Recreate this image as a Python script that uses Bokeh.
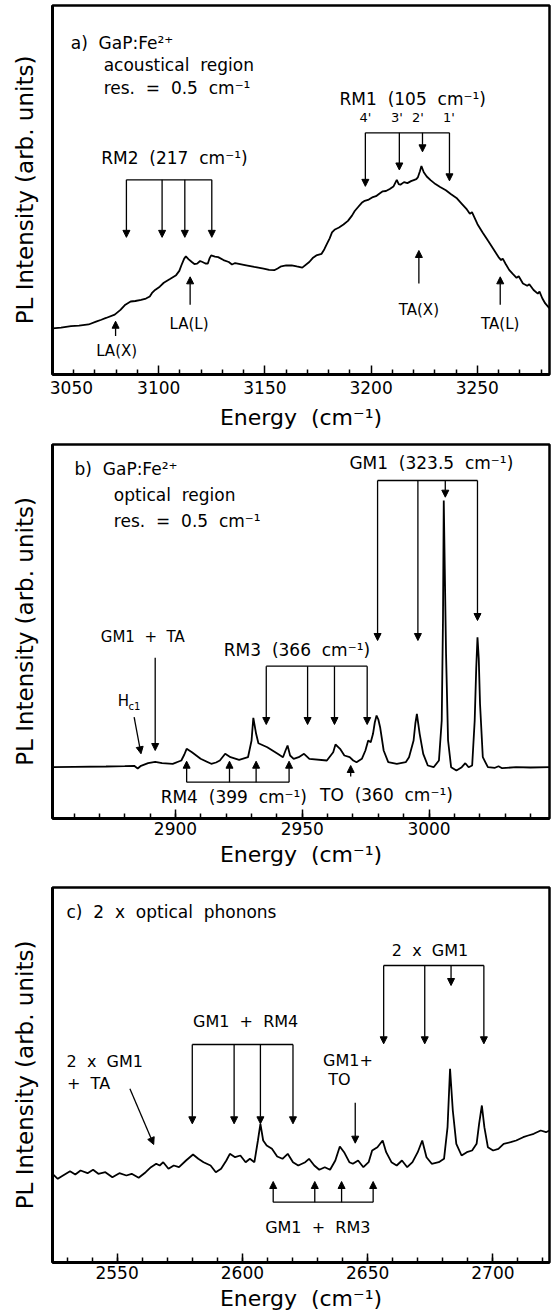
from bokeh.plotting import figure
from bokeh.layouts import column
from bokeh.models import (Range1d, Label, Arrow, NormalHead, ColumnDataSource,
                          FixedTicker, SingleIntervalTicker)
from bokeh.embed import file_html
from bokeh.resources import INLINE

FONT = "DejaVu Sans"
SP = "\u00a0"

# ---------------- panel a : acoustical region ----------------
a_energy = [3050.1, 3054.0, 3058.7, 3062.5, 3067.0, 3070.5, 3073.0, 3075.2, 3079.3, 3082.0,
            3084.3, 3086.8, 3089.0, 3091.7, 3094.0, 3095.8, 3097.0, 3098.3, 3100.5, 3102.4,
            3105.5, 3108.2, 3109.7, 3110.7, 3112.0, 3112.8, 3114.0, 3115.6, 3116.8, 3118.1,
            3119.5, 3120.6, 3122.0, 3123.1, 3124.0, 3124.7, 3126.5, 3128.0, 3130.5, 3133.0,
            3134.5, 3136.0, 3141.2, 3145.0, 3149.4, 3152.0, 3154.4, 3156.0, 3157.7, 3160.0,
            3162.6, 3165.0, 3167.6, 3170.9, 3172.5, 3174.2, 3176.7, 3178.0, 3179.2, 3180.5,
            3181.6, 3183.0, 3184.9, 3187.0, 3189.1, 3191.0, 3192.3, 3194.0, 3195.6, 3197.0,
            3198.9, 3200.5, 3202.3, 3204.0, 3205.5, 3207.0, 3208.8, 3210.5, 3212.1, 3213.0,
            3213.8, 3215.5, 3217.1, 3218.8, 3220.4, 3221.3, 3222.0, 3223.0, 3223.7, 3224.8,
            3226.2, 3228.0, 3230.3, 3232.5, 3235.2, 3237.5, 3240.2, 3242.5, 3245.1, 3246.5,
            3247.5, 3250.1, 3252.5, 3255.0, 3257.5, 3260.0, 3261.2, 3262.0, 3263.3, 3265.0,
            3266.6, 3268.5, 3269.5, 3271.5, 3273.5, 3274.5, 3276.5, 3278.5, 3279.3, 3280.6,
            3282.0, 3283.9]
a_intensity = [46.7, 47.5, 49.0, 49.5, 50.7, 53.5, 55.5, 57.3, 60.7, 65.5,
               70.7, 74.0, 74.5, 75.7, 77.0, 79.0, 83.0, 85.7, 89.0, 93.0,
               97.0, 100.7, 105.0, 110.7, 117.5, 119.7, 117.0, 114.0, 112.0, 112.3,
               115.0, 114.0, 112.5, 112.3, 118.0, 120.7, 119.5, 119.0, 116.0, 114.0,
               111.5, 113.0, 110.7, 109.0, 107.3, 106.0, 105.7, 107.5, 109.7, 110.5,
               110.7, 109.5, 108.3, 114.0, 118.0, 120.7, 122.3, 127.0, 132.3, 138.0,
               144.0, 147.0, 149.0, 152.0, 155.7, 161.0, 165.7, 170.0, 174.0, 176.0,
               177.3, 179.5, 180.7, 183.5, 185.7, 186.0, 188.0, 190.5, 197.3, 193.0,
               192.3, 195.0, 194.0, 196.0, 197.3, 198.0, 199.7, 206.0, 211.3, 205.0,
               200.7, 197.0, 193.0, 190.0, 186.7, 183.0, 179.0, 173.5, 167.3, 163.0,
               164.5, 152.3, 144.0, 135.7, 127.5, 119.0, 116.0, 117.5, 112.3, 106.0,
               102.3, 98.0, 99.5, 92.3, 90.0, 91.5, 85.7, 82.0, 84.0, 77.3,
               72.0, 67.3]
a_rm2 = [3084.8, 3101.6, 3112.3, 3125.0]          # RM2 replicas
a_rm2_level, a_rm2_tip = 197.3, 139.0
a_rm1 = [3197.3, 3213.3, 3224.2, 3236.9]          # RM1 replicas 4' 3' 2' 1'
a_rm1_level = 245.0
a_rm1_tip = [190.7, 207.3, 225.7, 196.3]
a_rm1_names = ["4'", "3'", "2'", "1'"]
a_up_x = [3079.7, 3114.8, 3222.5, 3260.8]          # LA(X), LA(L), TA(X), TA(L)
a_up_base = [39.0, 70.7, 92.3, 70.7]
a_up_tip = [54.0, 99.0, 125.7, 99.0]
a_up_names = ["LA(X)", "LA(L)", "TA(X)", "TA(L)"]
a_major = [3050, 3100, 3150, 3200, 3250]
a_minor = [3060, 3070, 3080, 3090, 3110, 3120, 3130, 3140, 3160, 3170, 3180, 3190,
           3210, 3220, 3230, 3240, 3260, 3270, 3280]

# ---------------- panel b : optical region ----------------
b_energy = [2851.6, 2860.0, 2872.6, 2880.0, 2883.7, 2885.1, 2886.4, 2889.2, 2892.0, 2894.7,
            2898.9, 2902.3, 2903.5, 2904.4, 2906.5, 2909.9, 2914.1, 2916.0, 2917.5, 2919.6,
            2921.7, 2925.1, 2928.6, 2930.0, 2930.7, 2931.8, 2932.7, 2936.2, 2940.3, 2942.4,
            2943.4, 2944.2, 2945.2, 2946.6, 2948.6, 2950.7, 2952.8, 2959.7, 2962.2, 2963.1,
            2964.9, 2966.6, 2968.7, 2970.1, 2971.4, 2973.5, 2974.9, 2976.0, 2977.0, 2977.9,
            2978.6, 2979.3, 2980.0, 2980.7, 2982.1, 2983.9, 2987.3, 2990.8, 2992.1, 2993.9,
            2994.6, 2995.2, 2996.3, 2997.7, 2999.5, 3001.8, 3003.9, 3005.0, 3005.5, 3005.8,
            3006.2, 3006.7, 3007.5, 3008.7, 3010.8, 3012.9, 3014.3, 3015.6, 3017.0, 3018.0,
            3018.6, 3019.1, 3019.6, 3020.1, 3021.2, 3023.2, 3026.0, 3027.4, 3028.8, 3034.3,
            3040.0, 3047.8]
b_intensity = [51.3, 51.6, 52.0, 52.4, 52.7, 50.0, 52.7, 55.3, 56.7, 55.3,
               54.7, 58.0, 64.0, 69.7, 66.3, 59.7, 54.7, 56.0, 58.0, 64.7,
               61.3, 58.7, 61.3, 78.0, 100.7, 84.7, 75.3, 71.3, 64.7, 61.3,
               68.0, 73.0, 63.0, 59.7, 61.3, 64.7, 59.7, 58.0, 66.3, 74.0,
               69.7, 63.0, 61.3, 58.0, 56.3, 59.7, 68.0, 78.0, 76.3, 84.7,
               96.0, 103.0, 99.0, 91.3, 68.0, 56.3, 54.7, 56.3, 61.3, 78.0,
               95.0, 104.7, 84.7, 64.7, 53.0, 51.3, 58.0, 98.0, 200.0, 318.0,
               250.0, 164.7, 78.0, 51.3, 48.0, 51.3, 55.3, 51.3, 53.0, 98.0,
               150.0, 181.3, 160.0, 114.7, 61.3, 51.3, 50.7, 52.3, 50.3, 51.3,
               51.0, 51.3]
b_gm1 = [2979.7, 2995.6, 3006.4, 3019.1]
b_gm1_level = 338.0
b_gm1_tip = [178.0, 178.0, 321.3, 198.0]
b_rm3 = [2935.8, 2952.1, 2962.7, 2975.6]
b_rm3_level, b_rm3_tip = 152.3, 94.0
b_rm4 = [2904.4, 2921.3, 2931.8, 2944.8]
b_rm4_level, b_rm4_tip = 36.3, 57.3
b_to = 2969.1
b_gm1ta = 2892.0

# ---------------- panel c : 2 x optical phonons ----------------
c_energy = [2524.2, 2526.3, 2528.4, 2531.2, 2533.3, 2535.4, 2538.2, 2540.4, 2542.5, 2545.3,
            2548.1, 2550.9, 2553.7, 2555.8, 2558.6, 2561.4, 2563.5, 2565.6, 2567.0, 2568.4,
            2570.5, 2572.6, 2574.7, 2577.5, 2580.3, 2582.4, 2584.5, 2587.3, 2589.4, 2591.5,
            2593.6, 2595.0, 2597.1, 2599.2, 2601.3, 2603.0, 2604.8, 2606.2, 2607.2, 2608.3,
            2609.7, 2611.8, 2613.9, 2616.0, 2618.1, 2620.2, 2622.3, 2625.1, 2626.6, 2628.7,
            2630.7, 2632.9, 2635.0, 2637.1, 2638.9, 2640.6, 2642.7, 2644.1, 2646.2, 2648.3,
            2650.4, 2651.8, 2653.9, 2656.0, 2657.4, 2659.5, 2661.6, 2663.7, 2665.8, 2667.9,
            2670.0, 2671.8, 2673.5, 2675.6, 2678.4, 2680.5, 2681.9, 2682.9, 2684.0, 2685.4,
            2687.5, 2689.6, 2691.7, 2693.5, 2694.5, 2695.6, 2696.6, 2698.0, 2700.1, 2702.2,
            2704.3, 2707.1, 2709.3, 2712.1, 2714.1, 2716.3, 2719.1, 2721.2, 2722.6]
c_intensity = [88.7, 83.7, 87.0, 91.3, 88.0, 92.0, 89.3, 92.7, 88.7, 90.3,
               85.3, 89.3, 87.0, 88.7, 84.7, 90.3, 95.3, 98.7, 97.0, 100.3,
               93.7, 97.0, 95.3, 102.0, 108.0, 103.7, 100.3, 97.0, 90.3, 93.7,
               102.0, 108.7, 105.3, 107.0, 100.3, 103.7, 100.3, 122.0, 138.7, 122.0,
               117.0, 113.7, 106.0, 103.7, 108.7, 100.3, 97.0, 100.3, 103.7, 97.0,
               92.7, 95.3, 92.7, 102.0, 116.0, 110.3, 100.3, 98.7, 102.0, 95.3,
               100.3, 112.0, 115.3, 122.0, 110.3, 100.3, 97.0, 102.0, 95.3, 100.3,
               110.3, 122.0, 105.3, 98.7, 100.3, 103.7, 135.3, 193.7, 152.0, 118.7,
               107.0, 110.3, 112.0, 118.7, 138.7, 157.0, 135.3, 115.3, 112.0, 113.7,
               118.7, 120.3, 122.0, 125.3, 127.0, 128.7, 132.0, 130.3, 132.0]
c_2gm1 = [2656.4, 2672.8, 2683.3, 2696.4]
c_2gm1_level = 297.0
c_2gm1_tip = [218.7, 218.7, 277.0, 218.7]
c_rm4 = [2580.0, 2596.7, 2607.2, 2620.2]
c_rm4_level, c_rm4_tip = 218.0, 138.7
c_rm3 = [2612.3, 2628.9, 2639.6, 2652.2]
c_rm3_level, c_rm3_tip = 60.3, 81.0
c_to = 2645.05


def make_fig(height, top, bottom, xr, yr):
    p = figure(width=551, height=height, x_range=Range1d(*xr), y_range=Range1d(*yr),
               output_backend="svg", toolbar_location=None,
               min_border_left=52, min_border_right=2,
               min_border_top=top, min_border_bottom=bottom)
    p.grid.visible = False
    p.outline_line_color = "black"
    p.outline_line_width = 2.5
    p.outline_line_alpha = 1.0
    xa = p.xaxis[0]
    xa.axis_line_width = 3
    xa.axis_line_color = "black"
    xa.major_tick_in = 9
    xa.major_tick_out = 0
    xa.minor_tick_in = 5
    xa.minor_tick_out = 0
    xa.major_tick_line_width = 1.5
    xa.minor_tick_line_width = 1.5
    xa.major_tick_line_color = "black"
    xa.minor_tick_line_color = "black"
    xa.major_label_text_font = FONT
    xa.major_label_text_font_size = "17px"
    xa.major_label_text_color = "black"
    xa.major_label_standoff = 3
    xa.axis_label = "Energy" + SP + " (cm⁻¹)"
    xa.axis_label_text_font = FONT
    xa.axis_label_text_font_size = "22px"
    xa.axis_label_text_font_style = "normal"
    xa.axis_label_text_color = "black"
    xa.axis_label_standoff = 4
    ya = p.yaxis[0]
    ya.ticker = FixedTicker(ticks=[])
    ya.axis_line_width = 3
    ya.axis_line_color = "black"
    ya.major_tick_line_color = None
    ya.minor_tick_line_color = None
    ya.axis_label = "PL Intensity (arb. units)"
    ya.axis_label_text_font = FONT
    ya.axis_label_text_font_size = "23px"
    ya.axis_label_text_font_style = "normal"
    ya.axis_label_text_color = "black"
    ya.axis_label_standoff = 15
    return p


def txt(p, x, y, text, size=17, align="center", baseline="middle"):
    p.add_layout(Label(x=x, y=y, text=text, text_font=FONT, text_font_size=f"{size}px",
                       text_align=align, text_baseline=baseline, text_color="black"))


def arrows(p, x0, y0, x1, y1, head=7):
    src = ColumnDataSource(dict(x0=x0, y0=y0, x1=x1, y1=y1))
    p.add_layout(Arrow(source=src, x_start="x0", y_start="y0", x_end="x1", y_end="y1",
                       line_width=1.3, line_color="black",
                       end=NormalHead(size=head, fill_color="black", line_color="black",
                                      line_width=1)))


def bracket(p, xs, level, tips):
    p.segment(x0=[min(xs)], y0=[level], x1=[max(xs)], y1=[level],
              line_color="black", line_width=1.3)
    arrows(p, xs, [level] * len(xs), xs, tips)


# ---- figure a ----
pa = make_fig(432, 5, 53, (3050, 3284), (0, 374))
pa.xaxis[0].ticker = FixedTicker(ticks=a_major, minor_ticks=a_minor)
# the first label sits to the right of the frame edge in the reference
pa.xaxis[0].major_label_overrides = {3050: SP * 7 + "3050"}
pa.line(a_energy, a_intensity, line_color="black", line_width=1.8)
bracket(pa, a_rm2, a_rm2_level, [a_rm2_tip] * 4)
bracket(pa, a_rm1, a_rm1_level, a_rm1_tip)
arrows(pa, a_up_x, a_up_base, a_up_x, a_up_tip)
txt(pa, 3058.6, 335.7, "a)" + SP + " GaP:Fe²⁺", align="left")
txt(pa, 3074.1, 313.3, "acoustical" + SP + " region", align="left")
txt(pa, 3074.1, 290.7, "res." + SP + " =" + SP + " 0.5" + SP + " cm⁻¹", align="left")
txt(pa, 3107.4, 219.0, "RM2" + SP + " (217" + SP + " cm⁻¹)")
txt(pa, 3219.6, 279.7, "RM1" + SP + " (105" + SP + " cm⁻¹)")
for xv, nm in zip([3197.3, 3212.2, 3222.0, 3236.6], a_rm1_names):
    txt(pa, xv, 260.7, nm, size=13)
txt(pa, 3080.2, 24.0, a_up_names[0], size=15)
txt(pa, 3114.3, 50.7, a_up_names[1], size=15)
txt(pa, 3222.5, 65.7, a_up_names[2], size=15)
txt(pa, 3260.8, 50.7, a_up_names[3], size=15)

# ---- figure b ----
pb = make_fig(443, 12, 57, (2851.5, 3047.5), (0, 374))
pb.xaxis[0].ticker = SingleIntervalTicker(interval=50, num_minor_ticks=5)
pb.line(b_energy, b_intensity, line_color="black", line_width=1.8)
bracket(pb, b_gm1, b_gm1_level, b_gm1_tip)
bracket(pb, b_rm3, b_rm3_level, [b_rm3_tip] * 4)
bracket(pb, b_rm4, b_rm4_level, [b_rm4_tip] * 4)
arrows(pb, [b_to], [42.0], [b_to], [53.0])
arrows(pb, [b_gm1ta], [160.7], [b_gm1ta], [68.0])
arrows(pb, [2883.7], [101.3], [2886.4], [64.7])
txt(pb, 2860.2, 349.7, "b)" + SP + " GaP:Fe²⁺", align="left")
txt(pb, 2875.7, 324.0, "optical" + SP + " region", align="left")
txt(pb, 2875.7, 298.0, "res." + SP + " =" + SP + " 0.5" + SP + " cm⁻¹", align="left")
txt(pb, 3000.9, 355.3, "GM1" + SP + " (323.5" + SP + " cm⁻¹)")
txt(pb, 2947.9, 169.0, "RM3" + SP + " (366" + SP + " cm⁻¹)")
txt(pb, 2923.0, 21.3, "RM4" + SP + " (399" + SP + " cm⁻¹)")
txt(pb, 2983.2, 24.0, "TO" + SP + " (360" + SP + " cm⁻¹)")
txt(pb, 2887.1, 181.3, "GM1" + SP + " +" + SP + " TA", size=15)
txt(pb, 2879.5, 117.7, "H", size=15)
txt(pb, 2883.8, 112.0, "c1", size=10)

# ---- figure c ----
pc = make_fig(439, 12, 52, (2524.2, 2722.6), (0, 375))
pc.xaxis[0].ticker = SingleIntervalTicker(interval=50, num_minor_ticks=5)
pc.line(c_energy, c_intensity, line_color="black", line_width=1.8)
bracket(pc, c_2gm1, c_2gm1_level, c_2gm1_tip)
bracket(pc, c_rm4, c_rm4_level, [c_rm4_tip] * 4)
bracket(pc, c_rm3, c_rm3_level, [c_rm3_tip] * 4)
arrows(pc, [c_to], [159.7], [c_to], [119.3])
arrows(pc, [2555.1], [173.7], [2564.6], [118.0])
txt(pc, 2529.8, 350.3, "c)" + SP + " 2" + SP + " x" + SP + " optical" + SP + " phonons", align="left")
txt(pc, 2674.9, 312.0, "2" + SP + " x" + SP + " GM1", size=16)
txt(pc, 2601.3, 241.3, "GM1" + SP + " +" + SP + " RM4", size=16)
txt(pc, 2632.2, 202.0, "GM1+", size=16, align="left")
txt(pc, 2634.3, 182.7, "TO", size=16, align="left")
txt(pc, 2529.8, 201.3, "2" + SP + " x" + SP + " GM1", size=16, align="left")
txt(pc, 2530.0, 179.3, "+" + SP + " TA", size=16, align="left")
txt(pc, 2630.1, 35.3, "GM1" + SP + " +" + SP + " RM3", size=16)

layout = column(pa, pb, pc, spacing=0)
open("out.html", "w").write(file_html(layout, INLINE))
